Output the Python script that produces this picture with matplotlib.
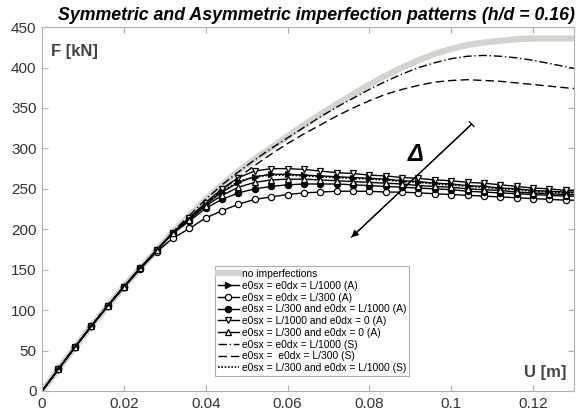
import numpy as np
import matplotlib.pyplot as plt

plt.rcParams['font.family'] = ['Liberation Sans', 'DejaVu Sans']

# displacement grid (m): markers every 0.004, last point at the axis edge
u = [0, 0.004, 0.008, 0.012, 0.016, 0.020, 0.024, 0.028, 0.032, 0.036,
     0.040, 0.044, 0.048, 0.052, 0.056, 0.060, 0.064, 0.068, 0.072, 0.076,
     0.080, 0.084, 0.088, 0.092, 0.096, 0.100, 0.104, 0.108, 0.112, 0.116,
     0.120, 0.124, 0.128, 0.130]

start = [0, 27, 54, 80, 105, 129, 152, 174]

no_imp = start + [197, 217, 237, 255, 272, 287, 301, 315, 329, 342, 355, 367,
                  379, 390, 400, 409, 417, 423, 428, 431, 433, 435, 436, 436,
                  436, 436]

a_1000 = start + [196, 213, 231, 246, 258, 265, 268, 268, 267, 266, 265, 264,
                  263, 262, 260, 259, 257, 256, 254, 253, 251, 250, 248, 247,
                  246, 246]
a_300 = [0, 27, 54, 80, 105, 128, 151, 172] + [189, 201, 214, 223, 231, 237,
                  240, 243, 245, 246, 247, 247, 247, 246, 246, 245, 244, 243,
                  242, 241, 240, 239, 238, 237, 236, 236]
a_300_1000 = start + [195, 210, 226, 237, 245, 250, 253, 255, 256, 256, 256,
                  255, 254, 253, 252, 251, 250, 249, 247, 246, 245, 244, 243,
                  242, 241, 241]
a_1000_0 = start + [196, 214, 233, 250, 264, 272, 275, 275, 274, 272, 270,
                  269, 267, 266, 264, 263, 261, 260, 258, 257, 255, 253, 251,
                  250, 248, 248]
a_300_0 = start + [196, 212, 229, 242, 252, 258, 261, 262, 262, 261, 260, 259,
                  258, 257, 256, 254, 253, 252, 250, 249, 248, 246, 245, 244,
                  243, 243]

s_1000 = start + [197, 217, 237, 255, 271, 286, 300, 313, 326, 339, 351, 362,
                  373, 383, 392, 400, 406, 411, 414, 415, 414, 412, 409, 405,
                  401, 399]
s_300 = start + [196, 214, 232, 249, 264, 279, 293, 306, 318, 329, 340, 350,
                 359, 367, 373, 378, 382, 384, 385, 384, 383, 381, 379, 377,
                 375, 374]
s_300_1000 = start + [196, 213, 231, 247, 259, 265, 267, 267, 266, 265, 264,
                      263, 262, 261, 259, 258, 256, 255, 253, 252, 250, 249,
                      247, 246, 245, 245]

fig = plt.figure(figsize=(5.76, 4.18), dpi=100)
ax = fig.add_axes([0.073, 0.0646, 0.9235, 0.8705])

mk = dict(markevery=range(1, 33), markersize=4.5, color='k', lw=1.0,
          markeredgewidth=0.9)

ax.plot(u, no_imp, color='#d6d2ce', lw=4.5, label='no imperfections')
ax.plot(u, a_1000, marker='>', markerfacecolor='k',
        label='e0sx = e0dx = L/1000 (A)', **mk)
ax.plot(u, a_300, marker='o', markerfacecolor='w',
        label='e0sx = e0dx = L/300 (A)', **mk)
ax.plot(u, a_300_1000, marker='o', markerfacecolor='k',
        label='e0sx = L/300 and e0dx = L/1000 (A)', **mk)
ax.plot(u, a_1000_0, marker='v', markerfacecolor='w',
        label='e0sx = L/1000 and e0dx = 0 (A)', **mk)
ax.plot(u, a_300_0, marker='^', markerfacecolor='w',
        label='e0sx = L/300 and e0dx = 0 (A)', **mk)
ax.plot(u, s_1000, color='k', lw=1.0, ls=(0, (6, 2, 1, 2)),
        label='e0sx = e0dx = L/1000 (S)')
ax.plot(u, s_300, color='k', lw=1.0, ls=(0, (6, 3)),
        label='e0sx =  e0dx = L/300 (S)')
ax.plot(u, s_300_1000, color='k', lw=1.2, ls=(0, (1, 1)),
        label='e0sx = L/300 and e0dx = L/1000 (S)')

# arrow showing increasing imperfection
ax.annotate('', xy=(0.0756, 190), xytext=(0.1050, 330),
            arrowprops=dict(arrowstyle='-|>', color='k', lw=0.9,
                            mutation_scale=10, shrinkA=0, shrinkB=0))
ax.annotate('', xy=(0.0756, 190), xytext=(0.1050, 330),
            arrowprops=dict(arrowstyle='|-|, widthA=0.25, widthB=0.0',
                            color='k', lw=0.9, shrinkA=0, shrinkB=0))
ax.text(0.0912, 292, 'Δ', fontsize=17, ha='center', va='center',
        style='italic', fontweight='bold')

ax.set_xlim(0, 0.13)
ax.set_ylim(0, 450)
ax.set_xticks([0, 0.02, 0.04, 0.06, 0.08, 0.1, 0.12])
ax.set_xticklabels(['0', '0.02', '0.04', '0.06', '0.08', '0.1', '0.12'])
ax.set_yticks(range(0, 451, 50))
ax.tick_params(direction='in', top=True, right=True, length=4,
               color='#b0b0b0', labelsize=11, labelcolor='#333333', pad=4)
for s in ax.spines.values():
    s.set_color('#b0b0b0')

ax.text(0.016, 0.955, 'F [kN]', transform=ax.transAxes, fontsize=12,
        fontweight='bold', color='#444444', va='top', ha='left')
ax.text(0.985, 0.052, 'U [m]', transform=ax.transAxes, fontsize=12,
        fontweight='bold', color='#444444', va='center', ha='right')

ax.set_title('Symmetric and Asymmetric imperfection patterns (h/d = 0.16)',
             fontsize=12.8, fontweight='bold', style='italic', pad=5,
             x=0.515)

leg = ax.legend(loc='lower left', bbox_to_anchor=(0.325, 0.041),
                fontsize=7.4, handlelength=2.0, handletextpad=0.3,
                labelspacing=0.17, borderpad=0.3, fancybox=False,
                framealpha=1, edgecolor='#b0b0b0', borderaxespad=0)
leg.get_frame().set_linewidth(0.8)

fig.savefig('out.png', dpi=100)
